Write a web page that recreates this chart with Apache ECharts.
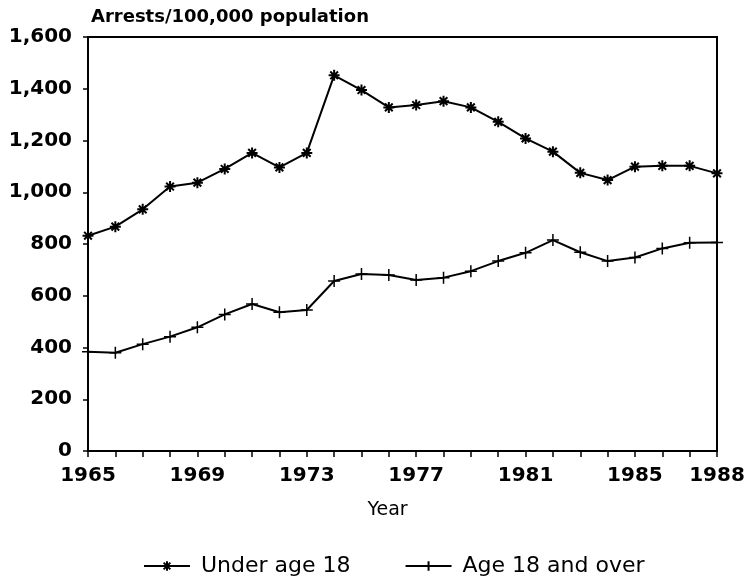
<!DOCTYPE html>
<html><head><meta charset="utf-8">
<script src="https://cdn.jsdelivr.net/npm/echarts@6/dist/echarts.min.js"></script>
<style>html,body{margin:0;padding:0;background:#fff}#c{width:744px;height:582px}</style>
</head><body><div id="c"></div>
<script>
const years = [1965,1966,1967,1968,1969,1970,1971,1972,1973,1974,1975,1976,1977,1978,1979,1980,1981,1982,1983,1984,1985,1986,1987,1988];
const under18 = [832,867,934,1022,1037,1090,1152,1096,1152,1452,1395,1328,1337,1352,1328,1272,1208,1157,1075,1047,1099,1102,1102,1073];
const age18over = [384,380,413,442,478,528,568,536,545,657,684,680,661,670,695,734,766,815,768,734,748,783,805,806];
const xTickLabels = [1965,1969,1973,1977,1981,1985,1988];
const yTicks = [0,200,400,600,800,1000,1200,1400,1600];

const font = '"DejaVu Sans", sans-serif';
const star = 'path://M0,5L10,5M5,0L5,10M1.5,1.5L8.5,8.5M8.5,1.5L1.5,8.5';
const plus = 'path://M0,5L10,5M5,0L5,10';

const chart = echarts.init(document.getElementById('c'));
chart.setOption({
  animation: false,
  backgroundColor: '#fff',
  title: {
    text: 'Arrests/100,000 population',
    left: 86, top: 3,
    textStyle: {fontFamily: font, fontWeight: 'bold', fontSize: 18, color: '#000'}
  },
  grid: {left: 88, right: 27, top: 37, bottom: 131, show: true, borderColor: '#000', borderWidth: 2,
         backgroundColor: 'transparent', outerBoundsMode: 'none', containLabel: false},
  xAxis: {
    type: 'value', min: 1965, max: 1988, interval: 1,
    name: 'Year', nameLocation: 'middle', nameGap: 50,
    nameTextStyle: {fontFamily: font, fontSize: 19, color: '#000', padding: [0, 30, 0, 0]},
    axisLine: {show: true, lineStyle: {color: '#000', width: 2}},
    axisTick: {show: true, length: 6, lineStyle: {color: '#000', width: 1.5}},
    splitLine: {show: false},
    axisLabel: {
      fontFamily: font, fontWeight: 'bold', fontSize: 20, color: '#000', margin: 15,
      showMinLabel: true, showMaxLabel: true, hideOverlap: false,
      formatter: v => xTickLabels.indexOf(v) >= 0 ? String(v) : ''
    }
  },
  yAxis: {
    type: 'value', min: 0, max: 1600, interval: 200,
    axisLine: {show: true, lineStyle: {color: '#000', width: 2}},
    axisTick: {show: true, length: 5, lineStyle: {color: '#000', width: 1.5}},
    splitLine: {show: false},
    axisLabel: {
      fontFamily: font, fontWeight: 'bold', fontSize: 20, color: '#000', margin: 16,
      formatter: v => yTicks.indexOf(v) >= 0 ? v.toLocaleString('en-US') : ''
    }
  },
  legend: {
    bottom: 0, left: 138, itemWidth: 46, itemHeight: 12, itemGap: 54,
    textStyle: {fontFamily: font, fontSize: 22, color: '#000', padding: [0, 0, 0, 6]},
    data: ['Under age 18', 'Age 18 and over']
  },
  series: [
    {
      name: 'Under age 18', type: 'line',
      data: years.map((y, i) => [y, under18[i]]),
      symbol: star, symbolSize: 11,
      lineStyle: {color: '#000', width: 2},
      itemStyle: {color: 'rgba(0,0,0,0)', borderColor: '#000', borderWidth: 2}
    },
    {
      name: 'Age 18 and over', type: 'line',
      data: years.map((y, i) => [y, age18over[i]]),
      symbol: plus, symbolSize: 12,
      lineStyle: {color: '#000', width: 2},
      itemStyle: {color: 'rgba(0,0,0,0)', borderColor: '#000', borderWidth: 1.5}
    }
  ]
});
</script></body></html>
